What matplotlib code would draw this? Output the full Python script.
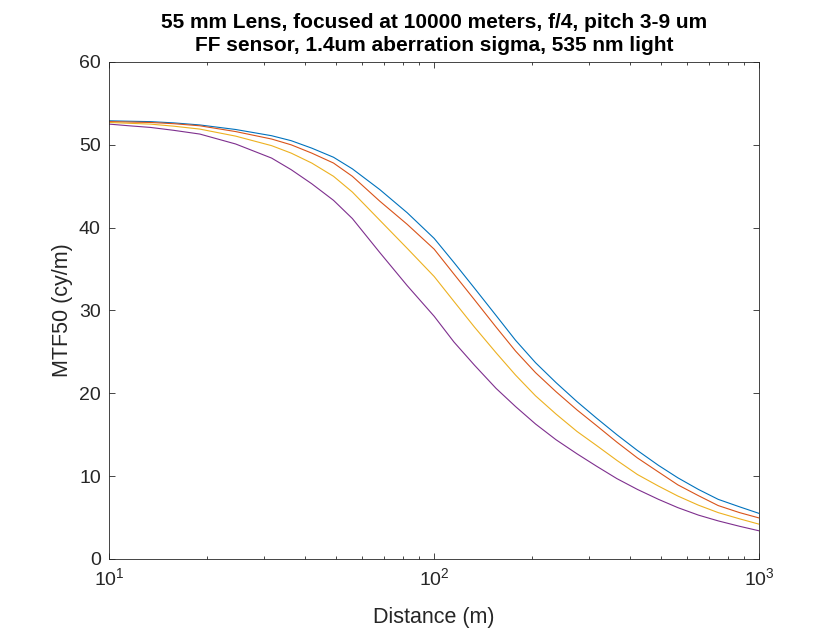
import matplotlib
matplotlib.use('Agg')
import numpy as np
import matplotlib.pyplot as plt

plt.rcParams['font.family'] = ['Liberation Sans', 'DejaVu Sans']
plt.rcParams['mathtext.fontset'] = 'custom'
plt.rcParams['mathtext.rm'] = 'Liberation Sans'
plt.rcParams['mathtext.it'] = 'Liberation Sans'

# distances (m)
distance = [10, 11.5, 13.4, 15.8, 19, 24.5, 31.6, 36.3, 42, 49, 56, 68, 82.6, 100, 115,
            133, 155, 178, 205, 237, 275, 316, 365, 422, 490, 562, 650, 748, 870, 1000]

# MTF50 for the four pixel pitches
mtf_a = [52.9, 52.85, 52.8, 52.65, 52.4, 51.85, 51.1, 50.5, 49.6, 48.5, 47.1, 44.6, 41.8, 38.7, 35.8,
         32.7, 29.4, 26.4, 23.7, 21.3, 19.0, 17.0, 15.0, 13.1, 11.3, 9.8, 8.4, 7.2, 6.3, 5.5]
mtf_b = [52.8, 52.75, 52.7, 52.55, 52.3, 51.6, 50.7, 50.0, 49.0, 47.8, 46.2, 43.2, 40.4, 37.4, 34.4,
         31.3, 28.0, 25.1, 22.5, 20.2, 18.0, 16.1, 14.1, 12.2, 10.5, 8.95, 7.65, 6.45, 5.6, 4.95]
mtf_c = [52.7, 52.6, 52.5, 52.25, 51.9, 51.05, 49.9, 49.0, 47.8, 46.2, 44.3, 40.9, 37.5, 34.1, 31.1,
         28.0, 24.9, 22.2, 19.7, 17.5, 15.4, 13.7, 11.9, 10.2, 8.8, 7.6, 6.5, 5.6, 4.85, 4.2]
mtf_d = [52.5, 52.3, 52.1, 51.75, 51.3, 50.1, 48.4, 47.0, 45.3, 43.3, 41.1, 37.0, 33.0, 29.3, 26.2,
         23.4, 20.6, 18.4, 16.3, 14.4, 12.7, 11.2, 9.7, 8.4, 7.2, 6.2, 5.3, 4.6, 3.95, 3.4]

colors = ['#0072BD', '#D95319', '#EDB120', '#7E2F8E']
dark = '#262626'

fig = plt.figure(figsize=(8.4, 6.3), dpi=100)
ax = fig.add_axes([0.13, 0.1127, 0.7738, 0.7889])

for y, c in zip([mtf_a, mtf_b, mtf_c, mtf_d], colors):
    ax.plot(distance, y, color=c, lw=0.8)

ax.set_xscale('log')
ax.set_xlim(10, 1000)
ax.set_ylim(0, 60)
ax.set_yticks(range(0, 61, 10))

ax.tick_params(which='both', direction='in', top=True, right=True, colors=dark, labelsize=14)
ax.tick_params(which='major', length=4.5, width=0.6)
ax.tick_params(which='minor', length=2.5, width=0.6)
ax.tick_params(axis='x', which='major', pad=6)
ax.tick_params(axis='y', which='major', pad=6)
for s in ax.spines.values():
    s.set_color(dark)
    s.set_linewidth(0.6)

ax.set_xlabel('Distance (m)', fontsize=15.5, color=dark, labelpad=13)
ax.set_ylabel('MTF50 (cy/m)', fontsize=15.5, color=dark, labelpad=4)
ax.set_title('55 mm Lens, focused at 10000 meters, f/4, pitch 3-9 um\nFF sensor, 1.4um aberration sigma, 535 nm light',
             fontsize=15, fontweight='bold', color='black', linespacing=1.25, pad=8)

fig.savefig('out.png', dpi=100)
